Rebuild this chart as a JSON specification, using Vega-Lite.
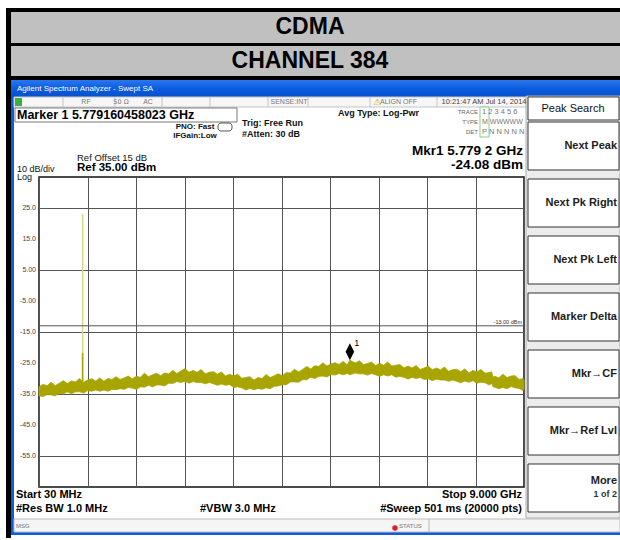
{
"$schema": "https://vega.github.io/schema/vega-lite/v6.json",
"width": 485, "height": 310,
"autosize": {"type": "none"},
"padding": {"left": 39, "top": 177, "right": 96, "bottom": 53},
"background": "white",
"config": {"view": {"stroke": "#111", "strokeWidth": 1.5}, "text": {"font": "Liberation Sans"}},
"datasets": {
"one": [{}],
"ylabels": [{"v":25,"t":"25.0"},{"v":15,"t":"15.0"},{"v":5,"t":"5.00"},{"v":-5,"t":"-5.00"},{"v":-15,"t":"-15.0"},{"v":-25,"t":"-25.0"},{"v":-35,"t":"-35.0"},{"v":-45,"t":"-45.0"},{"v":-55,"t":"-55.0"}],
"trace": [
{"f":30,"hi":-32.7,"lo":-35.6},{"f":105,"hi":-31.9,"lo":-35.8},{"f":180,"hi":-32.3,"lo":-35.2},{"f":255,"hi":-31.2,"lo":-35.3},{"f":330,"hi":-32.3,"lo":-35.6},{"f":405,"hi":-31.5,"lo":-34.8},{"f":480,"hi":-30.7,"lo":-35.0},{"f":555,"hi":-31.6,"lo":-34.3},{"f":630,"hi":-30.8,"lo":-34.9},{"f":705,"hi":-31.1,"lo":-34.3},{"f":780,"hi":-30.0,"lo":-34.3},{"f":855,"hi":-31.2,"lo":-34.7},{"f":930,"hi":-30.5,"lo":-33.9},{"f":1005,"hi":-30.1,"lo":-34.1},{"f":1080,"hi":-30.8,"lo":-33.7},{"f":1155,"hi":-29.8,"lo":-34.1},{"f":1230,"hi":-30.9,"lo":-33.7},{"f":1305,"hi":-30.0,"lo":-34.1},{"f":1380,"hi":-30.3,"lo":-33.5},{"f":1455,"hi":-29.4,"lo":-33.6},{"f":1530,"hi":-30.3,"lo":-33.3},{"f":1605,"hi":-29.8,"lo":-33.5},{"f":1680,"hi":-29.2,"lo":-32.9},{"f":1755,"hi":-30.1,"lo":-33.1},{"f":1830,"hi":-29.3,"lo":-33.5},{"f":1905,"hi":-29.6,"lo":-32.7},{"f":1980,"hi":-28.3,"lo":-32.8},{"f":2055,"hi":-29.4,"lo":-32.2},{"f":2130,"hi":-28.8,"lo":-32.7},{"f":2205,"hi":-28.3,"lo":-32.1},{"f":2280,"hi":-29.1,"lo":-32.1},{"f":2355,"hi":-28.2,"lo":-32.4},{"f":2430,"hi":-28.5,"lo":-31.5},{"f":2505,"hi":-27.4,"lo":-31.6},{"f":2580,"hi":-28.4,"lo":-31.0},{"f":2655,"hi":-27.6,"lo":-31.3},{"f":2730,"hi":-26.8,"lo":-30.9},{"f":2805,"hi":-28.0,"lo":-31.5},{"f":2880,"hi":-27.4,"lo":-31.0},{"f":2955,"hi":-28.0,"lo":-31.3},{"f":3030,"hi":-27.1,"lo":-31.3},{"f":3105,"hi":-28.5,"lo":-31.7},{"f":3180,"hi":-28.0,"lo":-31.3},{"f":3255,"hi":-27.8,"lo":-31.7},{"f":3330,"hi":-28.6,"lo":-32.2},{"f":3405,"hi":-27.9,"lo":-31.8},{"f":3480,"hi":-29.2,"lo":-32.2},{"f":3555,"hi":-28.6,"lo":-31.9},{"f":3630,"hi":-29.2,"lo":-32.9},{"f":3705,"hi":-28.6,"lo":-32.7},{"f":3780,"hi":-29.9,"lo":-33.0},{"f":3855,"hi":-29.7,"lo":-33.7},{"f":3930,"hi":-29.4,"lo":-33.2},{"f":4005,"hi":-30.5,"lo":-33.6},{"f":4080,"hi":-29.7,"lo":-33.2},{"f":4155,"hi":-30.0,"lo":-33.5},{"f":4230,"hi":-28.7,"lo":-33.0},{"f":4305,"hi":-29.7,"lo":-33.3},{"f":4380,"hi":-29.1,"lo":-32.5},{"f":4455,"hi":-28.5,"lo":-32.4},{"f":4530,"hi":-29.1,"lo":-32.0},{"f":4605,"hi":-28.1,"lo":-32.0},{"f":4680,"hi":-28.2,"lo":-31.1},{"f":4755,"hi":-27.0,"lo":-31.1},{"f":4830,"hi":-27.9,"lo":-31.2},{"f":4905,"hi":-27.1,"lo":-30.4},{"f":4980,"hi":-26.1,"lo":-30.4},{"f":5055,"hi":-26.9,"lo":-29.6},{"f":5130,"hi":-25.9,"lo":-30.0},{"f":5205,"hi":-26.1,"lo":-29.3},{"f":5280,"hi":-24.9,"lo":-29.2},{"f":5355,"hi":-26.0,"lo":-29.5},{"f":5430,"hi":-25.3,"lo":-28.7},{"f":5505,"hi":-24.9,"lo":-28.9},{"f":5580,"hi":-25.5,"lo":-28.4},{"f":5655,"hi":-24.5,"lo":-28.8},{"f":5730,"hi":-25.6,"lo":-28.4},{"f":5779,"hi":-24.1,"lo":-28.8},{"f":5880,"hi":-25.0,"lo":-28.2},{"f":5955,"hi":-24.3,"lo":-28.5},{"f":6030,"hi":-25.5,"lo":-28.5},{"f":6105,"hi":-25.2,"lo":-28.9},{"f":6180,"hi":-24.7,"lo":-28.4},{"f":6255,"hi":-25.8,"lo":-28.8},{"f":6330,"hi":-25.1,"lo":-29.3},{"f":6405,"hi":-25.7,"lo":-28.8},{"f":6480,"hi":-24.7,"lo":-29.2},{"f":6555,"hi":-26.0,"lo":-28.8},{"f":6630,"hi":-25.7,"lo":-29.6},{"f":6705,"hi":-25.5,"lo":-29.3},{"f":6780,"hi":-26.6,"lo":-29.6},{"f":6855,"hi":-26.0,"lo":-30.2},{"f":6930,"hi":-26.6,"lo":-29.6},{"f":7005,"hi":-25.8,"lo":-30.0},{"f":7080,"hi":-27.1,"lo":-29.7},{"f":7155,"hi":-26.6,"lo":-30.3},{"f":7230,"hi":-26.0,"lo":-30.1},{"f":7305,"hi":-27.2,"lo":-30.7},{"f":7380,"hi":-26.6,"lo":-30.2},{"f":7455,"hi":-27.2,"lo":-30.5},{"f":7530,"hi":-26.3,"lo":-30.5},{"f":7605,"hi":-27.7,"lo":-30.9},{"f":7680,"hi":-27.2,"lo":-30.5},{"f":7755,"hi":-27.0,"lo":-30.9},{"f":7830,"hi":-27.8,"lo":-31.4},{"f":7905,"hi":-26.9,"lo":-30.8},{"f":7980,"hi":-28.2,"lo":-31.2},{"f":8055,"hi":-27.4,"lo":-30.7},{"f":8130,"hi":-27.8,"lo":-31.5},{"f":8205,"hi":-27.1,"lo":-31.2},{"f":8280,"hi":-28.3,"lo":-31.4},{"f":8355,"hi":-28.1,"lo":-32.1},{"f":8400,"hi":-27.8,"lo":-31.6},{"f":8430,"hi":-29.6,"lo":-32.7},{"f":8460,"hi":-29.3,"lo":-32.8},{"f":8535,"hi":-29.8,"lo":-33.3},{"f":8610,"hi":-28.6,"lo":-32.9},{"f":8685,"hi":-29.7,"lo":-33.3},{"f":8760,"hi":-29.2,"lo":-32.6},{"f":8835,"hi":-29.1,"lo":-33.0},{"f":8910,"hi":-30.3,"lo":-33.2},{"f":8985,"hi":-30.0,"lo":-33.9},{"f":9000,"hi":-30.6,"lo":-33.5}
]
},
"layer": [
{"data":{"name":"one"},"mark":{"type":"rect","fill":"#000"},"encoding":{"x":{"datum":-580.3},"x2":{"datum":10775.6},"y":{"datum":89.52},"y2":{"datum":66.29}}},
{"data":{"name":"one"},"mark":{"type":"rect","fill":"#c0c0c0"},"encoding":{"x":{"datum":-487.9},"x2":{"datum":10775.6},"y":{"datum":88.23},"y2":{"datum":78.23}}},
{"data":{"name":"one"},"mark":{"type":"rect","fill":"#c0c0c0"},"encoding":{"x":{"datum":-487.9},"x2":{"datum":10775.6},"y":{"datum":77.26},"y2":{"datum":67.58}}},
{"data":{"name":"one"},"mark":{"type":"rect","fill":"#000"},"encoding":{"x":{"datum":-580.3},"x2":{"datum":-487.9},"y":{"datum":66.29},"y2":{"datum":-81.45}}},
{"data":{"name":"one"},"mark":{"type":"rect","fill":{"gradient":"linear","x1":0,"y1":0,"x2":0,"y2":1,"stops":[{"offset":0,"color":"#2a78ee"},{"offset":0.5,"color":"#0b5ce0"},{"offset":1,"color":"#0650cc"}]}},"encoding":{"x":{"datum":-487.9},"x2":{"datum":10775.6},"y":{"datum":66.29},"y2":{"datum":60.81}}},
{"data":{"name":"one"},"mark":{"type":"rect","fill":"#0b5ce0"},"encoding":{"x":{"datum":-487.9},"x2":{"datum":-432.4},"y":{"datum":60.81},"y2":{"datum":-80.48}}},
{"data":{"name":"one"},"mark":{"type":"rect","fill":"#0b5ce0"},"encoding":{"x":{"datum":-487.9},"x2":{"datum":10775.6},"y":{"datum":-79.52},"y2":{"datum":-80.48}}},
{"data":{"name":"one"},"mark":{"type":"rect","fill":"#f6f6f6","stroke":"#c4c4c4","strokeWidth":1},"encoding":{"x":{"datum":-432.4},"x2":{"datum":9055.5},"y":{"datum":60.81},"y2":{"datum":57.58}}},
{"data":{"name":"one"},"mark":{"type":"rule","color":"#c4c4c4"},"encoding":{"x":{"datum":473.9},"y":{"datum":60.81},"y2":{"datum":57.58}}},
{"data":{"name":"one"},"mark":{"type":"rule","color":"#c4c4c4"},"encoding":{"x":{"datum":1435.6},"y":{"datum":60.81},"y2":{"datum":57.58}}},
{"data":{"name":"one"},"mark":{"type":"rule","color":"#c4c4c4"},"encoding":{"x":{"datum":2304.9},"y":{"datum":60.81},"y2":{"datum":57.58}}},
{"data":{"name":"one"},"mark":{"type":"rule","color":"#c4c4c4"},"encoding":{"x":{"datum":3192.6},"y":{"datum":60.81},"y2":{"datum":57.58}}},
{"data":{"name":"one"},"mark":{"type":"rule","color":"#c4c4c4"},"encoding":{"x":{"datum":4265.3},"y":{"datum":60.81},"y2":{"datum":57.58}}},
{"data":{"name":"one"},"mark":{"type":"rule","color":"#c4c4c4"},"encoding":{"x":{"datum":5005.1},"y":{"datum":60.81},"y2":{"datum":57.58}}},
{"data":{"name":"one"},"mark":{"type":"rule","color":"#c4c4c4"},"encoding":{"x":{"datum":6151.8},"y":{"datum":60.81},"y2":{"datum":57.58}}},
{"data":{"name":"one"},"mark":{"type":"rule","color":"#c4c4c4"},"encoding":{"x":{"datum":7391.0},"y":{"datum":60.81},"y2":{"datum":57.58}}},
{"data":{"name":"one"},"mark":{"type":"rect","fill":"#3cb043"},"encoding":{"x":{"datum":-413.9},"x2":{"datum":-284.4},"y":{"datum":60.48},"y2":{"datum":57.90}}},
{"data":{"name":"one"},"mark":{"type":"rect","fill":"#fff","stroke":"#777","strokeWidth":1},"encoding":{"x":{"datum":-413.9},"x2":{"datum":3692.0},"y":{"datum":57.26},"y2":{"datum":52.74}}},
{"data":{"name":"one"},"mark":{"type":"rect","fill":"#fff","stroke":"#555","strokeWidth":1,"cornerRadius":3},"encoding":{"x":{"datum":3340.6},"x2":{"datum":3599.5},"y":{"datum":52.42},"y2":{"datum":49.84}}},
{"data":{"name":"one"},"mark":{"type":"rect","fill":"#fff","stroke":"#8fc98f","strokeWidth":1},"encoding":{"x":{"datum":8186.2},"x2":{"datum":8352.7},"y":{"datum":57.58},"y2":{"datum":47.90}}},
{"data":{"name":"one"},"mark":{"type":"rect","fill":"#ececec","stroke":"#aaa","strokeWidth":1},"encoding":{"x":{"datum":9037.0},"x2":{"datum":10775.6},"y":{"datum":61.13},"y2":{"datum":-75.0}}},
{"data":{"name":"one"},"mark":{"type":"rect","fill":"#fff","stroke":"#333","strokeWidth":1},"encoding":{"x":{"datum":9074.1},"x2":{"datum":10757.1},"y":{"datum":60.81},"y2":{"datum":53.39}}},
{"data":{"name":"one"},"mark":{"type":"rect","fill":"#fff","stroke":"#333","strokeWidth":1},"encoding":{"x":{"datum":9074.1},"x2":{"datum":10757.1},"y":{"datum":52.74},"y2":{"datum":37.26}}},
{"data":{"name":"one"},"mark":{"type":"rect","fill":"#fff","stroke":"#333","strokeWidth":1},"encoding":{"x":{"datum":9074.1},"x2":{"datum":10757.1},"y":{"datum":34.35},"y2":{"datum":18.87}}},
{"data":{"name":"one"},"mark":{"type":"rect","fill":"#fff","stroke":"#333","strokeWidth":1},"encoding":{"x":{"datum":9074.1},"x2":{"datum":10757.1},"y":{"datum":15.97},"y2":{"datum":0.48}}},
{"data":{"name":"one"},"mark":{"type":"rect","fill":"#fff","stroke":"#333","strokeWidth":1},"encoding":{"x":{"datum":9074.1},"x2":{"datum":10757.1},"y":{"datum":-2.42},"y2":{"datum":-17.90}}},
{"data":{"name":"one"},"mark":{"type":"rect","fill":"#fff","stroke":"#333","strokeWidth":1},"encoding":{"x":{"datum":9074.1},"x2":{"datum":10757.1},"y":{"datum":-20.81},"y2":{"datum":-36.29}}},
{"data":{"name":"one"},"mark":{"type":"rect","fill":"#fff","stroke":"#333","strokeWidth":1},"encoding":{"x":{"datum":9074.1},"x2":{"datum":10757.1},"y":{"datum":-39.19},"y2":{"datum":-54.68}}},
{"data":{"name":"one"},"mark":{"type":"rect","fill":"#fff","stroke":"#333","strokeWidth":1},"encoding":{"x":{"datum":9074.1},"x2":{"datum":10757.1},"y":{"datum":-57.58},"y2":{"datum":-73.06}}},
{"data":{"name":"one"},"mark":{"type":"rect","fill":"#f5f5f5","stroke":"#bbb","strokeWidth":1},"encoding":{"x":{"datum":-432.4},"x2":{"datum":10775.6},"y":{"datum":-75.32},"y2":{"datum":-79.52}}},
{"data":{"name":"one"},"mark":{"type":"rule","color":"#bbb"},"encoding":{"x":{"datum":7243.0},"y":{"datum":-75.32},"y2":{"datum":-79.52}}},
{"data":{"name":"trace"},"mark":{"type":"area","color":"#a8a400","stroke":"#a8a400","strokeWidth":0.8,"interpolate":"linear"},
 "encoding":{
  "x":{"field":"f","type":"quantitative","scale":{"domain":[30,9000],"nice":false,"zero":false},
       "axis":{"title":null,"values":[30,927,1824,2721,3618,4515,5412,6309,7206,8103,9000],"labels":false,"ticks":false,"domain":false,"grid":true,"gridColor":"#555","gridWidth":1}},
  "y":{"field":"hi","type":"quantitative","scale":{"domain":[-65,35],"nice":false,"zero":false},
       "axis":{"title":null,"values":[25,15,5,-5,-15,-25,-35,-45,-55],"labels":false,"ticks":false,"domain":false,"grid":true,"gridColor":"#555","gridWidth":1}},
  "y2":{"field":"lo"}}},
{"data":{"name":"ylabels"},"mark":{"type":"text","fontSize":7,"color":"#444","align":"right","baseline":"middle","dx":-3},"encoding":{"x":{"datum":30},"y":{"field":"v","type":"quantitative"},"text":{"field":"t"}}},
{"data":{"values":[{"f":836.52,"lo":-31.0,"hi":23.1}]},"mark":{"type":"rule","color":"#d6d68c","strokeWidth":1.5},"encoding":{"x":{"field":"f","type":"quantitative"},"y":{"field":"hi","type":"quantitative"},"y2":{"field":"lo"}}},
{"data":{"values":[{"f":836.52,"lo":-31.0,"hi":-21.8}]},"mark":{"type":"rule","color":"#a8a400","strokeWidth":1.5},"encoding":{"x":{"field":"f","type":"quantitative"},"y":{"field":"hi","type":"quantitative"},"y2":{"field":"lo"}}},
{"data":{"values":[{"level":-13}]},"mark":{"type":"rule","color":"#555","strokeWidth":1},"encoding":{"x":{"datum":30},"x2":{"datum":9000},"y":{"field":"level","type":"quantitative"}}},
{"data":{"values":[{"f":5779.16,"amp":-24.08}]},"mark":{"type":"point","shape":"M0,-1L0.5,0L0,1L-0.5,0Z","filled":true,"color":"#000","opacity":1,"size":289,"yOffset":-8.5},"encoding":{"x":{"field":"f","type":"quantitative"},"y":{"field":"amp","type":"quantitative"}}},
{"data":{"values":[{"f":5779.16,"amp":-24.08}]},"mark":{"type":"text","text":"1","fontSize":9,"color":"#000","dx":7,"dy":-17,"baseline":"middle"},"encoding":{"x":{"field":"f","type":"quantitative"},"y":{"field":"amp","type":"quantitative"}}},
{"data":{"name":"one"},"mark":{"type":"text","text":"CDMA","fontSize":23,"fontWeight":"bold","align":"center","baseline":"middle","color":"#000"},"encoding":{"x":{"datum":5042.1},"y":{"datum":83.23}}},
{"data":{"name":"one"},"mark":{"type":"text","text":"CHANNEL 384","fontSize":23,"fontWeight":"bold","align":"center","baseline":"middle","color":"#000"},"encoding":{"x":{"datum":5042.1},"y":{"datum":72.42}}},
{"data":{"name":"one"},"mark":{"type":"text","text":"Agilent Spectrum Analyzer - Swept SA","fontSize":8,"align":"left","baseline":"middle","color":"#fff"},"encoding":{"x":{"datum":-376.9},"y":{"datum":63.39}}},
{"data":{"name":"one"},"mark":{"type":"text","text":"RF","fontSize":7,"align":"center","baseline":"middle","color":"#777"},"encoding":{"x":{"datum":899.3},"y":{"datum":59.19}}},
{"data":{"name":"one"},"mark":{"type":"text","text":"50 Ω","font":"DejaVu Sans","fontSize":6.5,"align":"center","baseline":"middle","color":"#777"},"encoding":{"x":{"datum":1546.6},"y":{"datum":59.19}}},
{"data":{"name":"one"},"mark":{"type":"text","text":"AC","fontSize":7,"align":"center","baseline":"middle","color":"#777"},"encoding":{"x":{"datum":2045.9},"y":{"datum":59.19}}},
{"data":{"name":"one"},"mark":{"type":"text","text":"SENSE:INT","fontSize":7,"align":"center","baseline":"middle","color":"#777"},"encoding":{"x":{"datum":4653.7},"y":{"datum":59.19}}},
{"data":{"name":"one"},"mark":{"type":"text","text":"⚠","font":"DejaVu Sans","fontSize":9,"align":"center","baseline":"middle","color":"#d4a000"},"encoding":{"x":{"datum":6281.2},"y":{"datum":59.19}}},
{"data":{"name":"one"},"mark":{"type":"text","text":"ALIGN OFF","fontSize":7,"align":"left","baseline":"middle","color":"#777"},"encoding":{"x":{"datum":6336.7},"y":{"datum":59.19}}},
{"data":{"name":"one"},"mark":{"type":"text","text":"10:21:47 AM Jul 14, 2014","fontSize":7.5,"align":"center","baseline":"middle","color":"#444"},"encoding":{"x":{"datum":8260.2},"y":{"datum":59.19}}},
{"data":{"name":"one"},"mark":{"type":"text","text":"Marker 1 5.779160458023 GHz","fontSize":12.5,"fontWeight":"bold","align":"left","baseline":"middle","color":"#000"},"encoding":{"x":{"datum":-376.9},"y":{"datum":55.0}}},
{"data":{"name":"one"},"mark":{"type":"text","text":"PNO: Fast","fontSize":8,"fontWeight":"bold","align":"center","baseline":"middle","color":"#111"},"encoding":{"x":{"datum":2915.2},"y":{"datum":50.97}}},
{"data":{"name":"one"},"mark":{"type":"text","text":"IFGain:Low","fontSize":8,"fontWeight":"bold","align":"center","baseline":"middle","color":"#111"},"encoding":{"x":{"datum":2915.2},"y":{"datum":48.23}}},
{"data":{"name":"one"},"mark":{"type":"text","text":"Trig: Free Run","fontSize":9,"fontWeight":"bold","align":"left","baseline":"middle","color":"#111"},"encoding":{"x":{"datum":3784.4},"y":{"datum":52.42}}},
{"data":{"name":"one"},"mark":{"type":"text","text":"#Atten: 30 dB","fontSize":9,"fontWeight":"bold","align":"left","baseline":"middle","color":"#111"},"encoding":{"x":{"datum":3784.4},"y":{"datum":48.87}}},
{"data":{"name":"one"},"mark":{"type":"text","text":"Avg Type: Log-Pwr","fontSize":9,"fontWeight":"bold","align":"left","baseline":"middle","color":"#111"},"encoding":{"x":{"datum":5560.0},"y":{"datum":55.65}}},
{"data":{"name":"one"},"mark":{"type":"text","text":"TRACE","fontSize":6,"align":"right","baseline":"middle","color":"#666"},"encoding":{"x":{"datum":8149.2},"y":{"datum":55.97}}},
{"data":{"name":"one"},"mark":{"type":"text","text":"1 2 3 4 5 6","fontSize":7.5,"align":"left","baseline":"middle","color":"#777"},"encoding":{"x":{"datum":8223.2},"y":{"datum":55.97}}},
{"data":{"name":"one"},"mark":{"type":"text","text":"TYPE","fontSize":6,"align":"right","baseline":"middle","color":"#666"},"encoding":{"x":{"datum":8149.2},"y":{"datum":52.74}}},
{"data":{"name":"one"},"mark":{"type":"text","text":"M WWWWW","fontSize":7,"align":"left","baseline":"middle","color":"#777"},"encoding":{"x":{"datum":8223.2},"y":{"datum":52.74}}},
{"data":{"name":"one"},"mark":{"type":"text","text":"DET","fontSize":6,"align":"right","baseline":"middle","color":"#666"},"encoding":{"x":{"datum":8149.2},"y":{"datum":49.52}}},
{"data":{"name":"one"},"mark":{"type":"text","text":"P N N N N N","fontSize":7.5,"align":"left","baseline":"middle","color":"#777"},"encoding":{"x":{"datum":8223.2},"y":{"datum":49.52}}},
{"data":{"name":"one"},"mark":{"type":"text","text":"Mkr1 5.779 2 GHz","fontSize":13.5,"fontWeight":"bold","align":"right","baseline":"middle","color":"#000"},"encoding":{"x":{"datum":8981.5},"y":{"datum":43.4}}},
{"data":{"name":"one"},"mark":{"type":"text","text":"-24.08 dBm","fontSize":13.5,"fontWeight":"bold","align":"right","baseline":"middle","color":"#000"},"encoding":{"x":{"datum":8981.5},"y":{"datum":38.87}}},
{"data":{"name":"one"},"mark":{"type":"text","text":"Ref Offset 15 dB","fontSize":9.5,"align":"left","baseline":"middle","color":"#111"},"encoding":{"x":{"datum":732.8},"y":{"datum":41.29}}},
{"data":{"name":"one"},"mark":{"type":"text","text":"Ref 35.00 dBm","fontSize":11.5,"fontWeight":"bold","align":"left","baseline":"middle","color":"#000"},"encoding":{"x":{"datum":732.8},"y":{"datum":37.90}}},
{"data":{"name":"one"},"mark":{"type":"text","text":"10 dB/div","fontSize":9,"align":"left","baseline":"middle","color":"#111"},"encoding":{"x":{"datum":-376.9},"y":{"datum":37.58}}},
{"data":{"name":"one"},"mark":{"type":"text","text":"Log","fontSize":9,"align":"left","baseline":"middle","color":"#111"},"encoding":{"x":{"datum":-376.9},"y":{"datum":34.84}}},
{"data":{"name":"one"},"mark":{"type":"text","text":"-13.00 dBm","fontSize":5.5,"align":"right","baseline":"middle","color":"#333"},"encoding":{"x":{"datum":8963.0},"y":{"datum":-11.77}}},
{"data":{"name":"one"},"mark":{"type":"text","text":"Start 30 MHz","fontSize":11,"fontWeight":"bold","align":"left","baseline":"middle","color":"#000"},"encoding":{"x":{"datum":-395.4},"y":{"datum":-67.58}}},
{"data":{"name":"one"},"mark":{"type":"text","text":"Stop 9.000 GHz","fontSize":11,"fontWeight":"bold","align":"right","baseline":"middle","color":"#000"},"encoding":{"x":{"datum":8963.0},"y":{"datum":-67.58}}},
{"data":{"name":"one"},"mark":{"type":"text","text":"#Res BW 1.0 MHz","fontSize":11,"fontWeight":"bold","align":"left","baseline":"middle","color":"#000"},"encoding":{"x":{"datum":-395.4},"y":{"datum":-72.10}}},
{"data":{"name":"one"},"mark":{"type":"text","text":"#VBW 3.0 MHz","fontSize":11,"fontWeight":"bold","align":"left","baseline":"middle","color":"#000"},"encoding":{"x":{"datum":3007.7},"y":{"datum":-72.10}}},
{"data":{"name":"one"},"mark":{"type":"text","text":"#Sweep  501 ms (20000 pts)","fontSize":11,"fontWeight":"bold","align":"right","baseline":"middle","color":"#000"},"encoding":{"x":{"datum":8963.0},"y":{"datum":-72.10}}},
{"data":{"name":"one"},"mark":{"type":"text","text":"Peak Search","fontSize":11,"align":"center","baseline":"middle","color":"#111"},"encoding":{"x":{"datum":9906.3},"y":{"datum":56.94}}},
{"data":{"name":"one"},"mark":{"type":"text","text":"Next Peak","fontSize":11,"fontWeight":"bold","align":"right","baseline":"middle","color":"#222"},"encoding":{"x":{"datum":10720.1},"y":{"datum":45.0}}},
{"data":{"name":"one"},"mark":{"type":"text","text":"Next Pk Right","fontSize":11,"fontWeight":"bold","align":"right","baseline":"middle","color":"#222"},"encoding":{"x":{"datum":10720.1},"y":{"datum":26.61}}},
{"data":{"name":"one"},"mark":{"type":"text","text":"Next Pk Left","fontSize":11,"fontWeight":"bold","align":"right","baseline":"middle","color":"#222"},"encoding":{"x":{"datum":10720.1},"y":{"datum":8.23}}},
{"data":{"name":"one"},"mark":{"type":"text","text":"Marker Delta","fontSize":11,"fontWeight":"bold","align":"right","baseline":"middle","color":"#222"},"encoding":{"x":{"datum":10720.1},"y":{"datum":-10.16}}},
{"data":{"name":"one"},"mark":{"type":"text","text":"Mkr→CF","fontSize":11,"fontWeight":"bold","align":"right","baseline":"middle","color":"#222"},"encoding":{"x":{"datum":10720.1},"y":{"datum":-28.55}}},
{"data":{"name":"one"},"mark":{"type":"text","text":"Mkr→Ref Lvl","fontSize":11,"fontWeight":"bold","align":"right","baseline":"middle","color":"#222"},"encoding":{"x":{"datum":10720.1},"y":{"datum":-46.94}}},
{"data":{"name":"one"},"mark":{"type":"text","text":"More","fontSize":11,"fontWeight":"bold","align":"right","baseline":"middle","color":"#222"},"encoding":{"x":{"datum":10720.1},"y":{"datum":-63.06}}},
{"data":{"name":"one"},"mark":{"type":"text","text":"1 of 2","fontSize":9,"fontWeight":"bold","align":"right","baseline":"middle","color":"#333"},"encoding":{"x":{"datum":10720.1},"y":{"datum":-67.26}}},
{"data":{"name":"one"},"mark":{"type":"text","text":"MSG","fontSize":6,"align":"left","baseline":"middle","color":"#777"},"encoding":{"x":{"datum":-395.4},"y":{"datum":-77.58}}},
{"data":{"name":"one"},"mark":{"type":"point","shape":"circle","filled":true,"color":"#e02020","opacity":1,"size":30},"encoding":{"x":{"datum":6614.1},"y":{"datum":-78.2}}},
{"data":{"name":"one"},"mark":{"type":"text","text":"STATUS","fontSize":6,"align":"left","baseline":"middle","color":"#777"},"encoding":{"x":{"datum":6688.1},"y":{"datum":-77.58}}}
]
}
